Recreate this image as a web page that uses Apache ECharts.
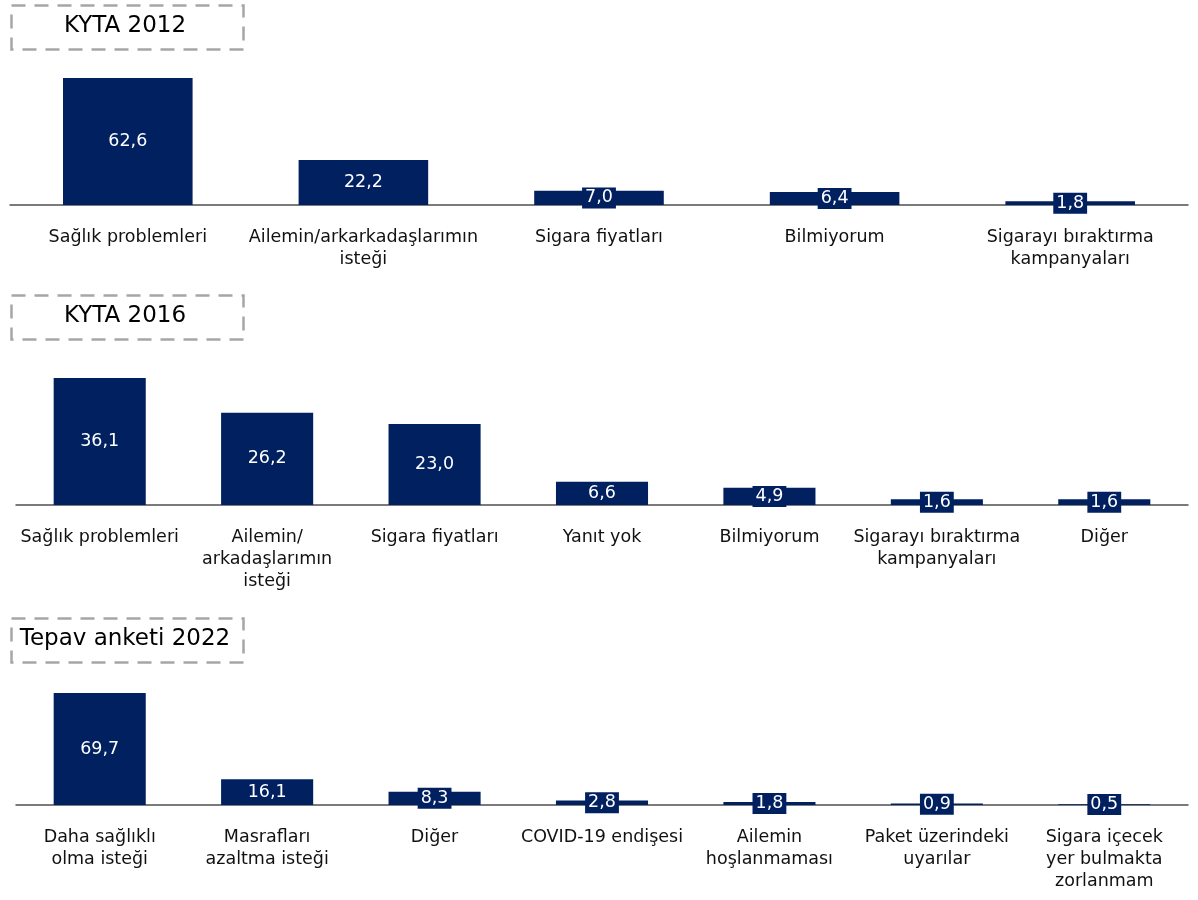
<!DOCTYPE html>
<html>
<head>
<meta charset="utf-8">
<script src="https://cdn.jsdelivr.net/npm/echarts@6/dist/echarts.min.js"></script>
<style>
  html, body { margin: 0; padding: 0; background: #fff; }
  #chart { width: 1198px; height: 900px; }
</style>
</head>
<body>
<div id="chart"></div>
<script>
// veriler
const titles = ['KYTA 2012', 'KYTA 2016', 'Tepav anketi 2022'];

const cats2012 = ['Sağlık problemleri', 'Ailemin/arkarkadaşlarımın\nisteği', 'Sigara fiyatları', 'Bilmiyorum', 'Sigarayı bıraktırma\nkampanyaları'];
const vals2012 = [62.6, 22.2, 7.0, 6.4, 1.8];

const cats2016 = ['Sağlık problemleri', 'Ailemin/\narkadaşlarımın\nisteği', 'Sigara fiyatları', 'Yanıt yok', 'Bilmiyorum', 'Sigarayı bıraktırma\nkampanyaları', 'Diğer'];
const vals2016 = [36.1, 26.2, 23.0, 6.6, 4.9, 1.6, 1.6];

const cats2022 = ['Daha sağlıklı\nolma isteği', 'Masrafları\nazaltma isteği', 'Diğer', 'COVID-19 endişesi', 'Ailemin\nhoşlanmaması', 'Paket üzerindeki\nuyarılar', 'Sigara içecek\nyer bulmakta\nzorlanmam'];
const vals2022 = [69.7, 16.1, 8.3, 2.8, 1.8, 0.9, 0.5];

const NAVY = '#002060';
const FONT = 'DejaVu Sans';

const panels = [
    { cats: cats2012, vals: vals2012, grid: { left: 10, right: 10, top: 78, height: 127 }, box: [9, 3] },
    { cats: cats2016, vals: vals2016, grid: { left: 16, right: 10, top: 378, height: 127 }, box: [9, 293] },
    { cats: cats2022, vals: vals2022, grid: { left: 16, right: 10, top: 693, height: 112 }, box: [9, 616] }
];

let chart = echarts.init(document.getElementById('chart'));

let grids = [], xAxes = [], yAxes = [], series = [], graphics = [];

panels.forEach((p, i) => {
    grids.push(p.grid);
    xAxes.push({
        type: 'category',
        gridIndex: i,
        data: p.cats,
        axisLine: { lineStyle: { color: '#505050', width: 1.5 } },
        axisTick: { show: false },
        axisLabel: {
            interval: 0,
            margin: 21,
            color: '#111',
            fontFamily: FONT,
            fontSize: 17.5,
            lineHeight: 22
        }
    });
    yAxes.push({
        type: 'value',
        gridIndex: i,
        min: 0,
        max: 'dataMax',
        show: false,
        splitLine: { show: false }
    });
    series.push({
        type: 'bar',
        xAxisIndex: i,
        yAxisIndex: i,
        data: p.vals,
        barWidth: '55%',
        itemStyle: { color: NAVY },
        label: {
            show: true,
            position: 'inside',
            color: '#fff',
            fontFamily: FONT,
            fontSize: 17.5,
            backgroundColor: NAVY,
            padding: [2, 3, 1, 3],
            formatter: (d) => d.value.toFixed(1).replace('.', ',')
        }
    });
    // başlık kutusu
    graphics.push({
        type: 'rect',
        left: p.box[0],
        top: p.box[1],
        shape: { width: 232, height: 44 },
        style: { fill: 'none', stroke: '#a6a6a6', lineWidth: 2.5, lineDash: [14, 9] }
    });
    graphics.push({
        type: 'text',
        x: p.box[0] + 116,
        y: p.box[1] + 23,
        style: {
            text: titles[i],
            fill: '#000',
            font: '23px "' + FONT + '"',
            textAlign: 'center',
            textVerticalAlign: 'middle'
        }
    });
});

chart.setOption({
    animation: false,
    grid: grids,
    xAxis: xAxes,
    yAxis: yAxes,
    series: series,
    graphic: graphics
});
</script>
</body>
</html>
